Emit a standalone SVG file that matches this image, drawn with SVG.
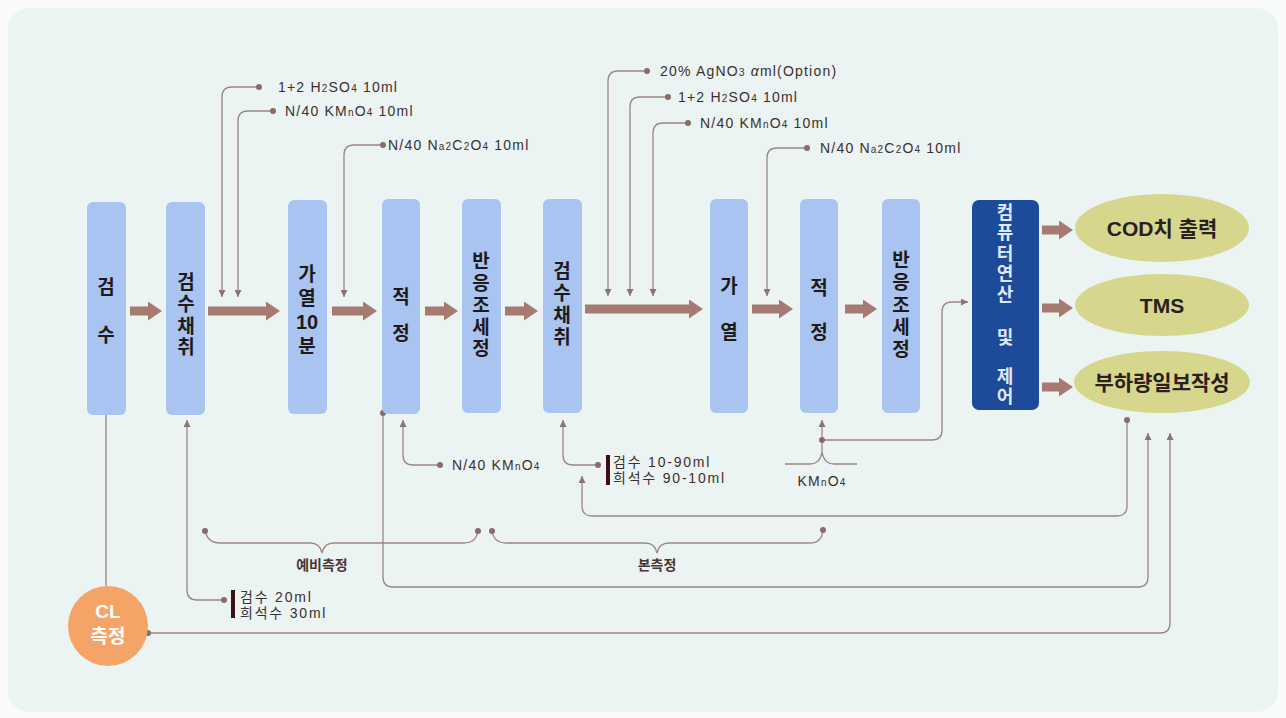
<svg xmlns="http://www.w3.org/2000/svg" width="1286" height="718" viewBox="0 0 1286 718">
<defs>
<style>
.box{fill:#a9c4f0}
.bt{font-family:"Noto Sans CJK KR","Liberation Sans",sans-serif;font-weight:700;font-size:19px;fill:#1e1a1a;text-anchor:middle}
.vt{writing-mode:vertical-rl;text-orientation:upright}
.dt{font-family:"Noto Sans CJK KR","Liberation Sans",sans-serif;font-weight:700;font-size:18px;fill:#dfe8f8;text-anchor:middle}
.et{font-family:"Liberation Sans","Noto Sans CJK KR",sans-serif;font-weight:700;font-size:21px;fill:#2a2020;text-anchor:middle}
.lb{font-family:"Liberation Sans","Noto Sans CJK KR",sans-serif;font-size:14px;fill:#3a3030;letter-spacing:1.2px}
.kl{letter-spacing:1.8px}
.kb{font-family:"Noto Sans CJK KR","Liberation Sans",sans-serif;font-weight:700;font-size:14px;fill:#4a3535;text-anchor:middle}
.sub{font-size:10px}
.ln{fill:none;stroke:#9a8782;stroke-width:1.3}
.dot{fill:#8a6a6a}
.fat{stroke:#a67a70;stroke-width:9}
</style>
<marker id="ah" markerUnits="userSpaceOnUse" markerWidth="7" markerHeight="7" viewBox="0 0 10 10" refX="10" refY="5" orient="auto"><path d="M0,0 L10,5 L0,10 z" fill="#8a7470"/></marker>
<marker id="fa" markerUnits="userSpaceOnUse" markerWidth="14" markerHeight="19" viewBox="0 0 14 19" refX="0" refY="9.5" orient="auto"><path d="M0,0 L14,9.5 L0,19 z" fill="#a67a70"/></marker>
</defs>
<rect x="0" y="0" width="1286" height="718" fill="#f9fbfb"/>
<rect x="8" y="8" width="1270" height="704" rx="22" fill="#ebf4f2"/>

<g id="connectors">
<path class="ln" d="M259,87 H232 Q222,87 222,97 V297" marker-end="url(#ah)"/>
<path class="ln" d="M273,111 H248 Q238,111 238,121 V297" marker-end="url(#ah)"/>
<path class="ln" d="M383,145 H354 Q344,145 344,155 V297" marker-end="url(#ah)"/>
<path class="ln" d="M647,71 H618 Q608,71 608,81 V296" marker-end="url(#ah)"/>
<path class="ln" d="M668,97 H640 Q630,97 630,107 V296" marker-end="url(#ah)"/>
<path class="ln" d="M688,123 H663 Q653,123 653,133 V296" marker-end="url(#ah)"/>
<path class="ln" d="M807,148 H777 Q767,148 767,158 V296" marker-end="url(#ah)"/>
<path class="ln" d="M106,415 V586"/>
<path class="ln" d="M224,600 H197 Q187,600 187,590 V420" marker-end="url(#ah)"/>
<path class="ln" d="M440,465 H413 Q403,465 403,455 V420" marker-end="url(#ah)"/>
<path class="ln" d="M383,413 V577 Q383,587 393,587 H1138 Q1148,587 1148,577 V433" marker-end="url(#ah)"/>
<path class="ln" d="M148,633 H1160 Q1170,633 1170,623 V433" marker-end="url(#ah)"/>
<path class="ln" d="M598,465 H573 Q563,465 563,455 V420" marker-end="url(#ah)"/>
<path class="ln" d="M1127,420 V506 Q1127,516 1117,516 H592 Q582,516 582,506 V476" marker-end="url(#ah)"/>
<path class="ln" d="M785,464 H810 Q820,464 822,452 Q824,464 834,464 H857"/>
<path class="ln" d="M822,452 V420" marker-end="url(#ah)"/>
<path class="ln" d="M822,440 H932 Q942,440 942,430 V312 Q942,302 952,302 H968" marker-end="url(#ah)"/>
<path class="ln" d="M205,531 Q208,543 220,543 H310 Q320,543 322,553 Q324,543 334,543 H464 Q476,543 478,531"/>
<path class="ln" d="M492,531 Q494,543 506,543 H645 Q655,543 657,553 Q659,543 669,543 H810 Q822,543 823,530"/>
<g>
<circle class="dot" cx="259" cy="87" r="3"/>
<circle class="dot" cx="273" cy="111" r="3"/>
<circle class="dot" cx="383" cy="145" r="3"/>
<circle class="dot" cx="647" cy="71" r="3"/>
<circle class="dot" cx="668" cy="97" r="3"/>
<circle class="dot" cx="688" cy="123" r="3"/>
<circle class="dot" cx="807" cy="148" r="3"/>
<circle class="dot" cx="224" cy="600" r="3"/>
<circle class="dot" cx="440" cy="465" r="3"/>
<circle class="dot" cx="383" cy="413" r="3"/>
<circle class="dot" cx="148" cy="633" r="3"/>
<circle class="dot" cx="598" cy="465" r="3"/>
<circle class="dot" cx="1127" cy="420" r="3"/>
<circle class="dot" cx="822" cy="440" r="3"/>
<circle class="dot" cx="205" cy="531" r="3"/>
<circle class="dot" cx="478" cy="531" r="3"/>
<circle class="dot" cx="492" cy="531" r="3"/>
<circle class="dot" cx="823" cy="530" r="3"/>
</g>
<line class="fat" x1="130" y1="311" x2="148" y2="311" marker-end="url(#fa)"/>
<line class="fat" x1="208" y1="311" x2="266" y2="311" marker-end="url(#fa)"/>
<line class="fat" x1="332" y1="311" x2="363" y2="311" marker-end="url(#fa)"/>
<line class="fat" x1="425" y1="311" x2="444" y2="311" marker-end="url(#fa)"/>
<line class="fat" x1="505" y1="311" x2="524" y2="311" marker-end="url(#fa)"/>
<line class="fat" x1="585" y1="309" x2="689" y2="309" marker-end="url(#fa)"/>
<line class="fat" x1="752" y1="309" x2="779" y2="309" marker-end="url(#fa)"/>
<line class="fat" x1="845" y1="309" x2="863" y2="309" marker-end="url(#fa)"/>
<line class="fat" x1="1042" y1="230" x2="1059" y2="230" marker-end="url(#fa)"/>
<line class="fat" x1="1042" y1="308" x2="1059" y2="308" marker-end="url(#fa)"/>
<line class="fat" x1="1042" y1="387" x2="1059" y2="387" marker-end="url(#fa)"/>
</g>

<g id="labels">
<text class="lb" x="278" y="92">1+2 H<tspan class="sub">2</tspan>SO<tspan class="sub">4</tspan> 10ml</text>
<text class="lb" x="285" y="116">N/40 KM<tspan class="sub">n</tspan>O<tspan class="sub">4</tspan> 10ml</text>
<text class="lb" x="388" y="150">N/40 N<tspan class="sub">a</tspan><tspan class="sub">2</tspan>C<tspan class="sub">2</tspan>O<tspan class="sub">4</tspan> 10ml</text>
<text class="lb" x="660" y="76">20% AgNO<tspan class="sub">3</tspan> <tspan font-style="italic">α</tspan>ml(Option)</text>
<text class="lb" x="678" y="102">1+2 H<tspan class="sub">2</tspan>SO<tspan class="sub">4</tspan> 10ml</text>
<text class="lb" x="700" y="128">N/40 KM<tspan class="sub">n</tspan>O<tspan class="sub">4</tspan> 10ml</text>
<text class="lb" x="820" y="153">N/40 N<tspan class="sub">a</tspan><tspan class="sub">2</tspan>C<tspan class="sub">2</tspan>O<tspan class="sub">4</tspan> 10ml</text>
<text class="lb" x="452" y="470">N/40 KM<tspan class="sub">n</tspan>O<tspan class="sub">4</tspan></text>
<rect x="606" y="455" width="4" height="30" fill="#3a1010"/>
<text class="lb kl" x="613" y="467">검수 10-90ml</text>
<text class="lb kl" x="613" y="483">희석수 90-10ml</text>
<text class="lb" x="822" y="486" text-anchor="middle">KM<tspan class="sub">n</tspan>O<tspan class="sub">4</tspan></text>
<rect x="231" y="590" width="4" height="28" fill="#3a1010"/>
<text class="lb kl" x="240" y="602">검수 20ml</text>
<text class="lb kl" x="240" y="618">희석수 30ml</text>
<text class="kb" x="322" y="570">예비측정</text>
<text class="kb" x="657" y="570">본측정</text>
</g>

<g id="n-gumsu"><rect class="box" x="87" y="202" width="39" height="213" rx="6"/>
<text class="bt" x="106" y="294">검</text><text class="bt" x="106" y="342">수</text></g>
<g id="n-chaechwi1"><rect class="box" x="166" y="202" width="39" height="213" rx="6"/>
<text class="bt vt" x="186" y="316" letter-spacing="2.7">검수채취</text></g>
<g id="n-gayeol10"><rect class="box" x="288" y="200" width="39" height="214" rx="6"/>
<text class="bt vt" x="307" y="288" letter-spacing="5">가열</text>
<text class="bt" x="307" y="329" style="font-family:'Liberation Sans',sans-serif;font-size:20px">10</text>
<text class="bt" x="307" y="353">분</text></g>
<g id="n-jeokjeong1"><rect class="box" x="382" y="199" width="38" height="215" rx="6"/>
<text class="bt" x="401" y="304">적</text><text class="bt" x="401" y="340">정</text></g>
<g id="n-banung1"><rect class="box" x="462" y="199" width="39" height="214" rx="6"/>
<text class="bt vt" x="481" y="306" letter-spacing="2.8">반응조세정</text></g>
<g id="n-chaechwi2"><rect class="box" x="543" y="199" width="39" height="214" rx="6"/>
<text class="bt vt" x="562" y="305" letter-spacing="3">검수채취</text></g>
<g id="n-gayeol"><rect class="box" x="710" y="199" width="38" height="214" rx="6"/>
<text class="bt" x="729" y="293">가</text><text class="bt" x="729" y="339">열</text></g>
<g id="n-jeokjeong2"><rect class="box" x="800" y="199" width="38" height="214" rx="6"/>
<text class="bt" x="819" y="295">적</text><text class="bt" x="819" y="339">정</text></g>
<g id="n-banung2"><rect class="box" x="882" y="199" width="38" height="214" rx="6"/>
<text class="bt vt" x="901" y="306" letter-spacing="3.2">반응조세정</text></g>
<g id="n-computer"><rect x="972" y="200" width="67" height="210" rx="7" fill="#1e4a9a"/>
<text class="dt vt" x="1005" y="254" letter-spacing="2.5">컴퓨터연산</text>
<text class="dt" x="1005" y="344">및</text>
<text class="dt vt" x="1005" y="387" letter-spacing="2">제어</text></g>
<g id="n-cod"><ellipse cx="1162" cy="228" rx="87" ry="34" fill="#d6d78c"/><text class="et" x="1162" y="236">COD치 출력</text></g>
<g id="n-tms"><ellipse cx="1162" cy="305" rx="87" ry="31" fill="#d6d78c"/><text class="et" x="1162" y="313">TMS</text></g>
<g id="n-report"><ellipse cx="1162" cy="382" rx="88" ry="31" fill="#d6d78c"/><text class="et" x="1162" y="390">부하량일보작성</text></g>
<g id="n-cl"><circle cx="108" cy="626" r="40" fill="#f5a468"/>
<text class="et" x="108" y="618" style="fill:#fff;font-size:19px">CL</text>
<text class="et" x="108" y="643" style="fill:#fff;font-size:19px">측정</text></g>
</svg>
